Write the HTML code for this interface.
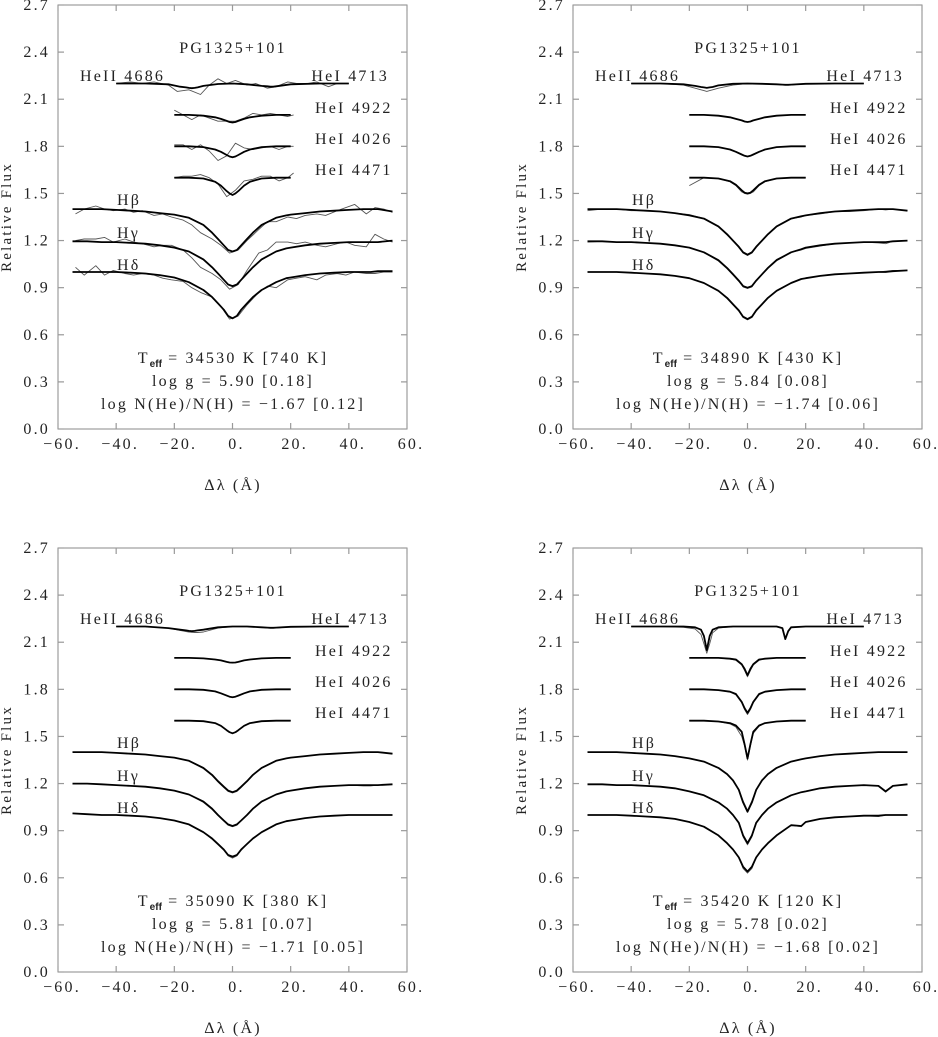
<!DOCTYPE html>
<html><head><meta charset="utf-8">
<style>
html,body{margin:0;padding:0;background:#fff;}
svg{display:block;}
text{font-family:"Liberation Serif",serif;fill:#222;letter-spacing:2.2px;}
</style></head>
<body>
<svg id="fig" width="938" height="1037" viewBox="0 0 938 1037" xmlns="http://www.w3.org/2000/svg"></svg>
<script>
// ---- data ----
const yTicks = [0.0,0.3,0.6,0.9,1.2,1.5,1.8,2.1,2.4,2.7];
const yTickLabels = ["0.0","0.3","0.6","0.9","1.2","1.5","1.8","2.1","2.4","2.7"];
const xTicks = [-60,-40,-20,0,20,40,60];
const xTickLabels = ["\u221260.","\u221240.","\u221220.","0.","20.","40.","60."];
const starName = "PG1325+101";
const teffVals = ["34530 K [740 K]","34890 K [430 K]","35090 K [380 K]","35420 K [120 K]"];
const loggVals = ["5.90 [0.18]","5.84 [0.08]","5.81 [0.07]","5.78 [0.02]"];
const heVals = ["\u22121.67 [0.12]","\u22121.74 [0.06]","\u22121.71 [0.05]","\u22121.68 [0.02]"];

// Balmer grid
const hX = [-55,-50,-45,-40,-35,-30,-25,-20,-15,-10,-7,-5,-3,-1.5,0,1.5,3,5,7,10,15,18.5,20,25,30,35,40,45,47.5,50,55];
const p1HbM = [1.40,1.40,1.40,1.395,1.39,1.385,1.375,1.365,1.345,1.30,1.25,1.21,1.17,1.14,1.13,1.14,1.17,1.21,1.25,1.30,1.345,1.36,1.365,1.375,1.385,1.39,1.395,1.40,1.40,1.40,1.385];
const p1HgM = [1.195,1.195,1.19,1.19,1.185,1.18,1.17,1.155,1.13,1.08,1.03,0.99,0.95,0.92,0.91,0.92,0.95,0.99,1.03,1.08,1.13,1.15,1.155,1.17,1.18,1.185,1.19,1.19,1.19,1.19,1.20];
const p1HdM = [1.0,1.0,1.0,1.0,0.995,0.99,0.98,0.965,0.935,0.885,0.84,0.80,0.76,0.72,0.705,0.72,0.76,0.80,0.84,0.885,0.935,0.96,0.965,0.98,0.99,0.995,1.0,1.0,1.0,1.005,1.005];
const p2HbM = [1.40,1.40,1.40,1.395,1.39,1.385,1.375,1.36,1.34,1.29,1.24,1.20,1.16,1.125,1.11,1.125,1.16,1.20,1.24,1.29,1.34,1.355,1.36,1.375,1.385,1.39,1.395,1.40,1.40,1.40,1.39];
const p2HgM = [1.195,1.195,1.19,1.19,1.185,1.18,1.17,1.155,1.125,1.075,1.025,0.985,0.945,0.91,0.90,0.91,0.945,0.985,1.025,1.075,1.125,1.145,1.155,1.17,1.18,1.185,1.19,1.19,1.19,1.195,1.20];
const p2HdM = [1.0,1.0,1.0,0.995,0.99,0.985,0.975,0.96,0.93,0.88,0.835,0.795,0.755,0.715,0.70,0.715,0.755,0.795,0.835,0.88,0.93,0.955,0.96,0.975,0.985,0.99,0.995,1.0,1.0,1.005,1.01];
const p3HbM = [1.40,1.40,1.40,1.395,1.39,1.385,1.375,1.365,1.345,1.30,1.255,1.215,1.18,1.155,1.145,1.155,1.18,1.215,1.255,1.30,1.345,1.36,1.365,1.375,1.385,1.39,1.395,1.40,1.40,1.40,1.39];
const p3HgM = [1.20,1.20,1.195,1.19,1.185,1.18,1.17,1.155,1.13,1.085,1.04,1.00,0.965,0.94,0.93,0.94,0.965,1.00,1.04,1.085,1.13,1.15,1.155,1.17,1.18,1.185,1.19,1.19,1.19,1.19,1.195];
const p3HdM = [1.01,1.005,1.0,1.0,0.995,0.99,0.98,0.965,0.94,0.89,0.85,0.815,0.78,0.745,0.735,0.745,0.78,0.815,0.85,0.89,0.94,0.96,0.965,0.98,0.99,0.995,1.0,1.0,1.0,1.0,1.0];
const p4HbM = [1.40,1.40,1.40,1.395,1.39,1.385,1.375,1.36,1.34,1.30,1.26,1.22,1.16,1.08,1.02,1.08,1.16,1.22,1.26,1.30,1.34,1.355,1.36,1.375,1.385,1.39,1.395,1.40,1.40,1.40,1.40];
const p4HgM = [1.195,1.195,1.19,1.19,1.185,1.18,1.17,1.15,1.125,1.08,1.04,1.00,0.95,0.87,0.82,0.87,0.95,1.00,1.04,1.08,1.125,1.145,1.15,1.17,1.18,1.185,1.19,1.185,1.15,1.185,1.195];
const p4HdM = [1.0,1.0,1.0,0.995,0.99,0.985,0.975,0.955,0.925,0.87,0.82,0.78,0.73,0.67,0.64,0.67,0.73,0.78,0.82,0.87,0.935,0.93,0.955,0.975,0.985,0.99,0.995,0.995,1.0,1.0,1.0];
const p2HbO = [1.39,1.40,1.40,1.39,1.39,1.385,1.375,1.365,1.34,1.29,1.235,1.20,1.155,1.12,1.105,1.12,1.155,1.20,1.24,1.29,1.34,1.35,1.36,1.37,1.385,1.385,1.39,1.40,1.395,1.40,1.39];
const p3HbO = [1.40,1.40,1.40,1.395,1.39,1.385,1.375,1.365,1.345,1.295,1.25,1.21,1.175,1.15,1.14,1.15,1.175,1.215,1.255,1.30,1.345,1.36,1.365,1.375,1.385,1.39,1.395,1.40,1.40,1.40,1.39];
const p4HbO = [1.40,1.40,1.40,1.395,1.39,1.385,1.375,1.36,1.34,1.30,1.26,1.22,1.16,1.09,1.03,1.09,1.16,1.22,1.26,1.30,1.34,1.355,1.36,1.375,1.385,1.39,1.395,1.40,1.40,1.40,1.40];
const p2HgO = [1.19,1.195,1.19,1.19,1.185,1.18,1.17,1.155,1.125,1.07,1.02,0.98,0.94,0.905,0.895,0.905,0.945,0.985,1.03,1.08,1.125,1.14,1.15,1.165,1.18,1.185,1.19,1.185,1.18,1.195,1.20];
const p3HgO = [1.20,1.20,1.195,1.19,1.185,1.18,1.17,1.155,1.13,1.08,1.035,0.995,0.96,0.935,0.925,0.935,0.965,1.00,1.04,1.085,1.13,1.15,1.155,1.17,1.18,1.185,1.19,1.185,1.185,1.19,1.195];
const p4HgO = [1.195,1.195,1.19,1.19,1.185,1.18,1.17,1.15,1.125,1.08,1.04,1.00,0.95,0.86,0.81,0.86,0.95,1.00,1.04,1.08,1.125,1.145,1.15,1.17,1.18,1.185,1.19,1.185,1.145,1.185,1.195];
const p2HdO = [1.0,1.0,1.0,0.995,0.99,0.985,0.975,0.96,0.93,0.88,0.83,0.79,0.75,0.71,0.695,0.71,0.75,0.795,0.835,0.88,0.93,0.955,0.96,0.975,0.985,0.99,0.995,1.0,1.005,1.01,1.01];
const p3HdO = [1.01,1.005,1.0,1.0,0.995,0.99,0.98,0.965,0.94,0.89,0.845,0.81,0.775,0.74,0.725,0.74,0.775,0.815,0.85,0.89,0.94,0.96,0.965,0.98,0.99,0.995,1.0,1.0,1.0,1.0,1.0];
const p4HdO = [1.0,1.0,1.0,0.995,0.99,0.985,0.975,0.955,0.925,0.87,0.82,0.78,0.73,0.66,0.63,0.66,0.73,0.78,0.82,0.87,0.935,0.925,0.955,0.975,0.985,0.99,0.995,0.99,1.0,1.0,1.0];

// Panel 1 noisy observations
const obs1X = [-54,-51,-47,-44,-41,-37,-34,-31,-27,-24,-21,-17,-14,-11,-7,-4,-1,2,5,9,12,15,19,22,25,29,32,36,39,42,46,49,52,55];
const p1HbO = [1.37,1.40,1.42,1.40,1.39,1.40,1.38,1.39,1.36,1.37,1.35,1.33,1.30,1.25,1.21,1.17,1.12,1.14,1.20,1.27,1.32,1.32,1.35,1.34,1.36,1.37,1.36,1.39,1.41,1.43,1.37,1.41,1.40,1.38];
const p1HgO = [1.20,1.21,1.21,1.22,1.19,1.21,1.19,1.18,1.16,1.17,1.17,1.14,1.09,1.03,0.99,0.95,0.89,0.92,1.01,1.12,1.14,1.19,1.19,1.18,1.19,1.17,1.16,1.18,1.19,1.17,1.16,1.24,1.21,1.19];
const p1HdO = [1.03,0.98,1.04,0.98,1.01,0.99,0.98,0.99,0.98,0.96,0.95,0.94,0.90,0.87,0.84,0.78,0.70,0.72,0.79,0.87,0.91,0.90,0.95,0.96,0.97,0.95,0.98,0.99,0.98,1.00,0.99,0.99,1.00,1.00];
const obs1HeIIX = [-40,-35,-31,-27,-22,-19,-15,-11,-8,-5,-2,1,5,8,12,15,19,22,26,29,33,36,40];
const p1HeIIO = [2.20,2.21,2.20,2.21,2.19,2.15,2.16,2.13,2.19,2.23,2.20,2.22,2.19,2.20,2.17,2.18,2.21,2.20,2.20,2.21,2.18,2.20,2.20];
const obs1HeIX = [-20,-17,-14,-11,-8,-5,-2,1,4,7,10,13,16,19,21];
const p1He4922O = [2.03,2.00,1.97,2.00,1.98,1.96,1.96,1.96,1.98,2.01,2.00,2.01,2.00,1.99,2.00];
const p1He4026O = [1.81,1.81,1.78,1.81,1.77,1.71,1.74,1.82,1.79,1.78,1.79,1.80,1.78,1.80,1.80];
const p1He4471O = [1.60,1.61,1.61,1.62,1.60,1.56,1.48,1.52,1.58,1.59,1.61,1.61,1.58,1.60,1.63];

// HeI grid
const heX = [-20,-15,-10,-6,-4,-2,-1,0,1,2,4,6,10,15,20];
const p1He4922M = [2.0,2.0,1.995,1.985,1.975,1.962,1.955,1.952,1.955,1.962,1.975,1.985,1.995,2.0,2.0];
const p1He4026M = [1.8,1.8,1.795,1.78,1.765,1.745,1.735,1.73,1.735,1.745,1.765,1.78,1.795,1.8,1.8];
const p1He4471M = [1.6,1.6,1.595,1.575,1.55,1.515,1.50,1.49,1.50,1.515,1.55,1.575,1.595,1.6,1.6];
const p2He4922M = [2.0,2.0,1.995,1.985,1.975,1.965,1.958,1.955,1.958,1.965,1.975,1.985,1.995,2.0,2.0];
const p2He4026M = [1.8,1.8,1.795,1.78,1.765,1.748,1.74,1.735,1.74,1.748,1.765,1.78,1.795,1.8,1.8];
const p2He4471M = [1.6,1.6,1.595,1.578,1.555,1.52,1.505,1.50,1.505,1.52,1.555,1.578,1.595,1.6,1.6];
const p3He4922M = [2.0,2.0,1.997,1.99,1.984,1.975,1.971,1.97,1.971,1.975,1.984,1.99,1.997,2.0,2.0];
const p3He4026M = [1.8,1.8,1.797,1.787,1.775,1.76,1.753,1.75,1.753,1.76,1.775,1.787,1.797,1.8,1.8];
const p3He4471M = [1.6,1.6,1.597,1.585,1.568,1.54,1.527,1.52,1.527,1.54,1.568,1.585,1.597,1.6,1.6];
const p4He4922M = [2.0,2.0,2.0,1.995,1.99,1.96,1.93,1.89,1.93,1.96,1.99,1.995,2.0,2.0,2.0];
const p4He4026M = [1.8,1.8,1.795,1.785,1.77,1.72,1.68,1.65,1.68,1.72,1.77,1.785,1.795,1.8,1.8];
const p4He4471M = [1.6,1.6,1.595,1.585,1.57,1.53,1.45,1.36,1.45,1.53,1.57,1.585,1.595,1.6,1.6];
const p2He4471O = [1.55,1.6,1.595,1.575,1.55,1.51,1.50,1.495,1.50,1.51,1.55,1.575,1.595,1.6,1.6];
const p4He4922O = [2.0,2.0,2.0,1.993,1.985,1.955,1.92,1.88,1.92,1.955,1.985,1.995,2.0,2.0,2.0];
const p4He4026O = [1.8,1.8,1.795,1.783,1.765,1.715,1.67,1.64,1.67,1.715,1.765,1.785,1.795,1.8,1.8];
const p4He4471O = [1.6,1.6,1.595,1.58,1.56,1.50,1.44,1.35,1.44,1.52,1.565,1.585,1.595,1.6,1.6];

// HeII 4686 / HeI 4713 grid
const heIIX = [-40,-30,-22,-18,-16,-15,-14,-13,-12,-10,-5,0,5,10,12,13,14,15,20,30,40];
const p1HeIIM = [2.20,2.20,2.195,2.18,2.175,2.172,2.17,2.172,2.175,2.185,2.197,2.20,2.195,2.185,2.182,2.18,2.18,2.182,2.195,2.20,2.20];
const p2HeIIM = [2.20,2.20,2.195,2.185,2.178,2.175,2.172,2.175,2.178,2.188,2.198,2.20,2.198,2.195,2.193,2.192,2.192,2.193,2.198,2.20,2.20];
const p2HeIIO = [2.20,2.20,2.19,2.17,2.16,2.155,2.15,2.155,2.16,2.17,2.19,2.20,2.20,2.195,2.19,2.19,2.19,2.19,2.20,2.20,2.20];
const p3HeIIM = [2.20,2.20,2.19,2.18,2.175,2.172,2.17,2.172,2.175,2.18,2.195,2.20,2.20,2.195,2.193,2.192,2.192,2.193,2.198,2.20,2.20];
const p3HeIIO = [2.20,2.20,2.19,2.175,2.168,2.165,2.163,2.162,2.162,2.165,2.19,2.20,2.20,2.195,2.19,2.19,2.19,2.19,2.198,2.20,2.20];
const p4HeIIM = [2.20,2.20,2.20,2.195,2.18,2.14,2.05,2.14,2.18,2.195,2.20,2.20,2.20,2.20,2.19,2.12,2.17,2.195,2.20,2.20,2.20];
const p4HeIIO = [2.20,2.20,2.195,2.185,2.15,2.09,2.03,2.09,2.16,2.19,2.20,2.20,2.20,2.20,2.19,2.125,2.17,2.195,2.20,2.20,2.20];

// ---- drawing ----
const NS = "http://www.w3.org/2000/svg";
const svg = document.getElementById('fig');
const W = 349, H = 424;
const panels = [
 {x0:58, y0:5, i:0, hb:[hX,p1HbM,obs1X,p1HbO], hg:[hX,p1HgM,obs1X,p1HgO], hd:[hX,p1HdM,obs1X,p1HdO],
  heii:[heIIX,p1HeIIM,obs1HeIIX,p1HeIIO], h22:[heX,p1He4922M,obs1HeIX,p1He4922O], h26:[heX,p1He4026M,obs1HeIX,p1He4026O], h71:[heX,p1He4471M,obs1HeIX,p1He4471O]},
 {x0:573, y0:5, i:1, hb:[hX,p2HbM,hX,p2HbO], hg:[hX,p2HgM,hX,p2HgO], hd:[hX,p2HdM,hX,p2HdO],
  heii:[heIIX,p2HeIIM,heIIX,p2HeIIO], h22:[heX,p2He4922M,heX,p2He4922M], h26:[heX,p2He4026M,heX,p2He4026M], h71:[heX,p2He4471M,heX,p2He4471O]},
 {x0:58, y0:548, i:2, hb:[hX,p3HbM,hX,p3HbO], hg:[hX,p3HgM,hX,p3HgO], hd:[hX,p3HdM,hX,p3HdO],
  heii:[heIIX,p3HeIIM,heIIX,p3HeIIO], h22:[heX,p3He4922M,heX,p3He4922M], h26:[heX,p3He4026M,heX,p3He4026M], h71:[heX,p3He4471M,heX,p3He4471M]},
 {x0:573, y0:548, i:3, hb:[hX,p4HbM,hX,p4HbO], hg:[hX,p4HgM,hX,p4HgO], hd:[hX,p4HdM,hX,p4HdO],
  heii:[heIIX,p4HeIIM,heIIX,p4HeIIO], h22:[heX,p4He4922M,heX,p4He4922O], h26:[heX,p4He4026M,heX,p4He4026O], h71:[heX,p4He4471M,heX,p4He4471O]}
];

function mk(tag, attrs, parent){
  const e = document.createElementNS(NS, tag);
  for (const k in attrs) e.setAttribute(k, attrs[k]);
  parent.appendChild(e);
  return e;
}
function txt(parent, x, y, s, anchor, size){
  const t = mk('text', {x:x, y:y, 'text-anchor':anchor||'start', 'font-size':size||16}, parent);
  t.textContent = s;
  return t;
}

panels.forEach(p => {
  const g = mk('g', {}, svg);
  
  
  const sx = v => p.x0 + (v + 60) / 120 * W;
  const sy = v => p.y0 + H - v / 2.7 * H;

  const frame = mk('rect', {x:p.x0, y:p.y0, width:W, height:H, fill:'none', stroke:'#888', 'stroke-width':1}, g);
  
  

  yTicks.forEach((v, k) => {
    const y = sy(v);
    mk('line', {x1:p.x0, x2:p.x0+6, y1:y, y2:y, stroke:'#999', 'stroke-width':1.2}, g);
    mk('line', {x1:p.x0+W-6, x2:p.x0+W, y1:y, y2:y, stroke:'#999', 'stroke-width':1.2}, g);
    const t = txt(g, p.x0 - 8, y + 5, yTickLabels[k], 'end', 16);
    
    
  });
  xTicks.forEach((v, k) => {
    const x = sx(v);
    mk('line', {x1:x, x2:x, y1:p.y0+H, y2:p.y0+H-6, stroke:'#999', 'stroke-width':1.2}, g);
    mk('line', {x1:x, x2:x, y1:p.y0, y2:p.y0+6, stroke:'#999', 'stroke-width':1.2}, g);
    const t = txt(g, x + 4, p.y0 + H + 20, xTickLabels[k], 'middle', 16);
    
    
  });

  const yt = txt(g, 0, 0, 'Relative Flux', 'middle', 15);
  yt.setAttribute('transform', `translate(${p.x0-47},${p.y0+H/2}) rotate(-90)`);
  
  
  const xt = txt(g, p.x0 + 175, p.y0 + H + 61, '\u0394\u03bb (\u00c5)', 'middle', 16);
  
  

  const tt = txt(g, p.x0 + 175, p.y0 + 48, starName, 'middle', 16);
  
  

  const labs = [['HeII 4686', 22, 76, 'start'], ['HeI 4713', 331, 76, 'end'], ['HeI 4922', 257, 108, 'start'],
                ['HeI 4026', 257, 139, 'start'], ['HeI 4471', 257, 170, 'start'],
                ['H\u03b2', 59, 200, 'start'], ['H\u03b3', 59, 233, 'start'], ['H\u03b4', 59, 265, 'start']];
  labs.forEach(l => {
    const t = txt(g, p.x0 + l[1], p.y0 + l[2], l[0], l[3], 16);
    
    
  });

  const path = (xs, ys, w, col, name) => {
    const d = xs.map((x, k) => (k ? 'L' : 'M') + sx(x).toFixed(1) + ',' + sy(ys[k]).toFixed(1)).join('');
    const e = mk('path', {d:d, fill:'none', stroke:col, 'stroke-width':w, 'stroke-linejoin':'round'}, g);
    
    
  };
  [['hb','hbeta'],['hg','hgamma'],['hd','hdelta'],['heii','heii-4686'],['h22','hei-4922'],['h26','hei-4026'],['h71','hei-4471']].forEach(([k, n]) => {
    const s = p[k];
    path(s[2], s[3], 0.9, '#555', n + '-observed');
    path(s[0], s[1], 1.8, '#000', n + '-model');
  });

  const t1 = mk('text', {x:p.x0+175, y:p.y0+358, 'text-anchor':'middle', 'font-size':16}, g);
  
  
  t1.innerHTML = 'T<tspan font-size="10" dy="4" font-weight="bold" font-family="Liberation Sans, sans-serif" letter-spacing="0">eff</tspan><tspan dy="-4"> = ' + teffVals[p.i] + '</tspan>';
  const t2 = txt(g, p.x0+175, p.y0+381, 'log g = ' + loggVals[p.i], 'middle', 16);
  
  
  const t3 = txt(g, p.x0+175, p.y0+404, 'log N(He)/N(H) = ' + heVals[p.i], 'middle', 16);
  
  
});
</script>
</body></html>
